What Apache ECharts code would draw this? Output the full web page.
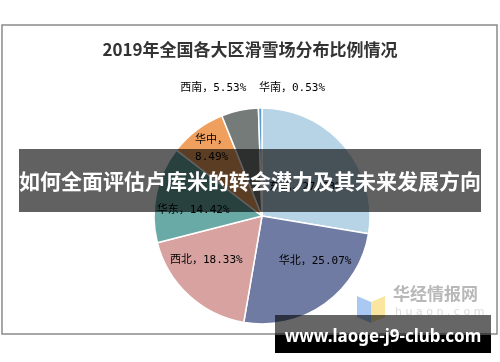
<!DOCTYPE html>
<html><head><meta charset="utf-8">
<script src="https://cdn.jsdelivr.net/npm/echarts@6/dist/echarts.min.js"></script>
<style>html,body{margin:0;padding:0;background:#fff}#c{width:500px;height:362px}</style>
</head><body><div id="c"></div>
<script>
const titleText = '2019年全国各大区滑雪场分布比例情况';
const categories = ['东北', '华北', '西北', '华东', '华中', '西南', '华南'];
const values = [27.63, 25.07, 18.33, 14.42, 8.49, 5.53, 0.53];
const colors = ['#b7d4e6', '#6f7ba2', '#d7a29f', '#6aaaa6', '#f0a05e', '#747b79', '#5b9bd5'];
const labelOffsets = [[0, 8], [20, -1], [-17, 2], [-13, 6], [-16, -22], [-37, -72], [31, -71]];
const bannerText = '如何全面评估卢库米的转会潜力及其未来发展方向';
const urlText = 'www.laoge-j9-club.com';

const chart = echarts.init(document.getElementById('c'), null, {renderer: 'canvas'});
const data = categories.map((n, i) => ({
  name: n, value: values[i],
  itemStyle: {color: colors[i]},
  label: {offset: labelOffsets[i]}
}));
chart.setOption({
  animation: false,
  backgroundColor: '#fff',
  title: {
    text: titleText, left: 'center', top: 36,
    textStyle: {fontSize: 17, fontWeight: 'bold', color: '#333', fontFamily: '"Noto Sans CJK SC", serif'}
  },
  series: [{
    type: 'pie',
    center: [262, 216],
    radius: 108,
    startAngle: 90,
    clockwise: true,
    data: data,
    itemStyle: {borderColor: '#fff', borderWidth: 1.5},
    labelLine: {show: false},
    label: {
      position: 'inside',
      color: '#000',
      fontSize: 11,
      fontFamily: '"DejaVu Sans Mono", "Noto Sans CJK SC", monospace',
      lineHeight: 17,
      formatter: p => p.name === '华中' ? p.name + '，\n' + p.value.toFixed(2) + '%' : p.name + '，' + p.value.toFixed(2) + '%'
    },
    emphasis: {disabled: true}
  }],
  graphic: [
    {type: 'rect', z: -10, shape: {x: 2, y: 25, width: 495, height: 309}, style: {fill: 'none', stroke: '#8a8a8a', lineWidth: 1.5}},
    {type: 'polygon', z: 5, shape: {points: [[357, 296], [371, 302], [371, 323], [357, 317]]}, style: {fill: '#a9c9f2'}},
    {type: 'polygon', z: 5, shape: {points: [[371, 302], [385, 296], [385, 317], [371, 323]]}, style: {fill: '#fbe6a0'}},
    {type: 'text', z: 5, style: {text: '华经情报网', x: 393, y: 294, fill: '#b8b8b8', font: 'bold 17px "Noto Sans CJK SC"', textVerticalAlign: 'middle'}},
    {type: 'text', z: 5, style: {text: 'h u a o n . c o m', x: 395, y: 312, fill: '#dcdcdc', font: '11px "DejaVu Sans"', textVerticalAlign: 'middle'}},
    {type: 'rect', z: 100, shape: {x: 19, y: 149, width: 462, height: 63}, style: {fill: 'rgba(0,0,0,0.62)'}},
    {type: 'text', z: 101, style: {text: bannerText, x: 250, y: 181, fill: '#fff', font: 'bold 21px "Noto Sans CJK SC"', textAlign: 'center', textVerticalAlign: 'middle'}},
    {type: 'rect', z: 100, shape: {x: 275, y: 315, width: 216, height: 20}, style: {fill: 'rgba(0,0,0,0.6)'}},
    {type: 'rect', z: 100, shape: {x: 275, y: 335, width: 216, height: 18}, style: {fill: '#000'}},
    {type: 'text', z: 101, style: {text: urlText, x: 383, y: 337, fill: '#fff', font: 'bold 17px "Noto Sans"', textAlign: 'center', textVerticalAlign: 'middle'}}
  ]
});
</script></body></html>
